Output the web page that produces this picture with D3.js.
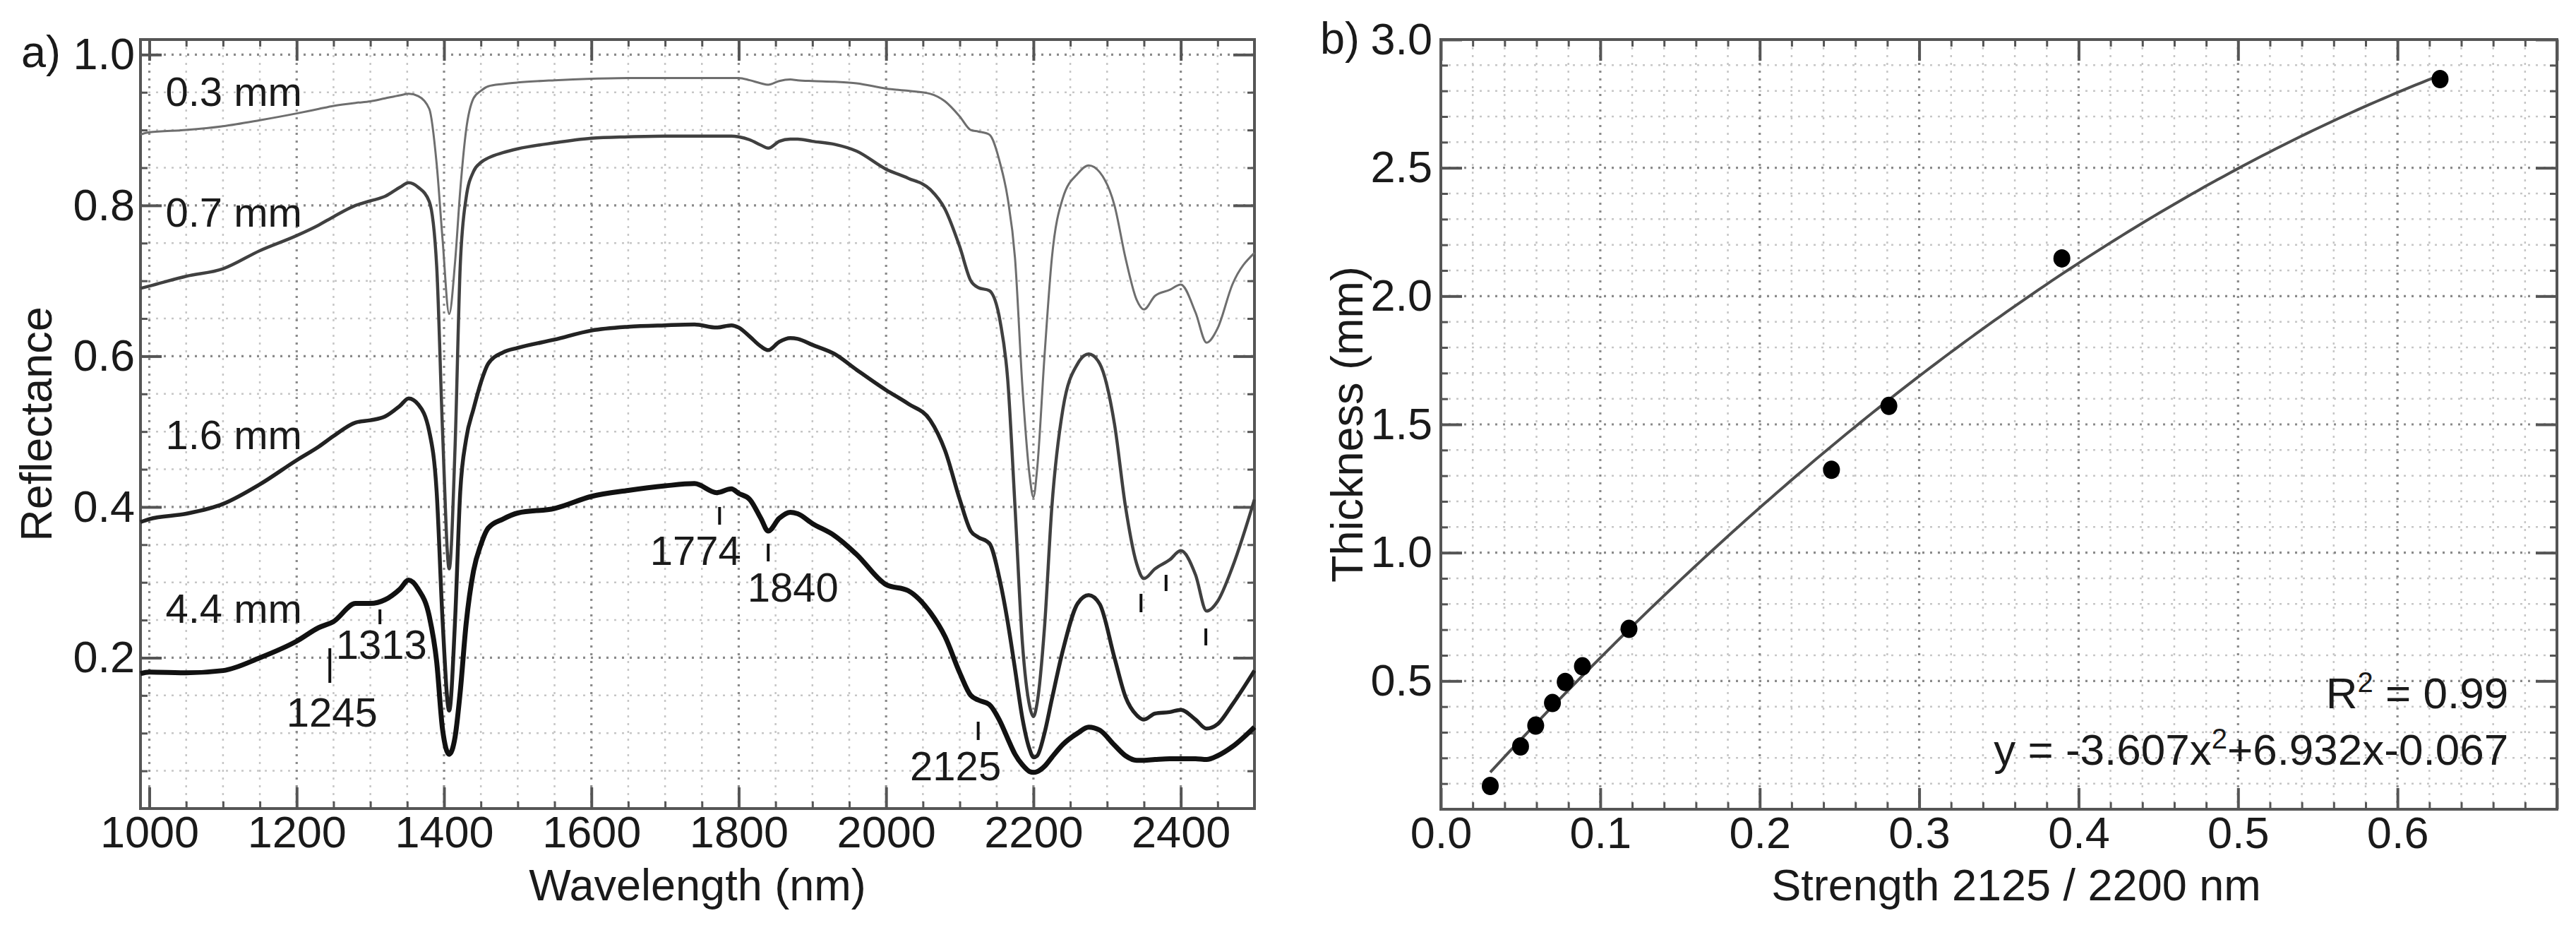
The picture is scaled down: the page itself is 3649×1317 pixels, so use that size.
<!DOCTYPE html>
<html>
<head>
<meta charset="utf-8">
<script src="https://cdn.jsdelivr.net/npm/d3@7"></script>
<style>
  body { margin: 0; background: #fff; }
  svg text { font-family: "Liberation Sans", Arial, Helvetica, sans-serif; fill: #1a1a1a; }
</style>
</head>
<body>
<svg id="fig" width="3649" height="1317"></svg>
<script>
// ---- panel a) reflectance spectra ----
const wavelength = [988, 1000, 1050, 1100, 1150, 1200, 1230, 1250, 1280, 1300, 1320, 1340, 1352, 1365,
  1380, 1390, 1398, 1407, 1415, 1422, 1430, 1440, 1450, 1460, 1480, 1500, 1550, 1600, 1650, 1700, 1740,
  1770, 1790, 1800, 1815, 1830, 1840, 1855, 1870, 1880, 1900, 1930, 1960, 2000, 2030, 2060, 2080, 2100,
  2115, 2125, 2140, 2155, 2165, 2175, 2185, 2195, 2200, 2205, 2215, 2225, 2240, 2260, 2275, 2290, 2310,
  2325, 2340, 2350, 2365, 2385, 2400, 2420, 2435, 2450, 2470, 2500];

const refl03 = [0.894, 0.897, 0.900, 0.905, 0.913, 0.922, 0.928, 0.932, 0.936, 0.938, 0.942, 0.946, 0.948, 0.945,
  0.928, 0.855, 0.755, 0.656, 0.725, 0.820, 0.900, 0.942, 0.952, 0.958, 0.961, 0.963, 0.966, 0.968, 0.969, 0.969, 0.969,
  0.969, 0.969, 0.969, 0.966, 0.962, 0.960, 0.965, 0.967, 0.966, 0.965, 0.964, 0.962, 0.955, 0.952, 0.948, 0.938, 0.918,
  0.900, 0.898, 0.894, 0.855, 0.810, 0.730, 0.560, 0.440, 0.413, 0.450, 0.600, 0.730, 0.810, 0.842, 0.853, 0.844, 0.800,
  0.730, 0.675, 0.662, 0.680, 0.688, 0.695, 0.658, 0.618, 0.637, 0.695, 0.737];

const refl07 = [0.690, 0.693, 0.706, 0.716, 0.740, 0.760, 0.774, 0.785, 0.800, 0.806, 0.812, 0.824, 0.830, 0.824,
  0.805, 0.720, 0.500, 0.318, 0.480, 0.720, 0.810, 0.845, 0.857, 0.863, 0.870, 0.875, 0.883, 0.889, 0.891, 0.892, 0.892,
  0.892, 0.892, 0.891, 0.887, 0.880, 0.876, 0.885, 0.888, 0.888, 0.885, 0.881, 0.872, 0.848, 0.836, 0.821, 0.795, 0.745,
  0.700, 0.691, 0.687, 0.645, 0.570, 0.400, 0.220, 0.135, 0.122, 0.140, 0.240, 0.400, 0.530, 0.590, 0.603, 0.590, 0.510,
  0.400, 0.325, 0.305, 0.318, 0.330, 0.342, 0.310, 0.262, 0.275, 0.320, 0.410];

const refl16 = [0.380, 0.384, 0.391, 0.404, 0.430, 0.462, 0.480, 0.494, 0.512, 0.515, 0.520, 0.534, 0.544, 0.536,
  0.500, 0.420, 0.250, 0.130, 0.250, 0.420, 0.490, 0.530, 0.565, 0.590, 0.605, 0.611, 0.622, 0.634, 0.639, 0.641, 0.642,
  0.638, 0.641, 0.638, 0.626, 0.613, 0.608, 0.619, 0.624, 0.623, 0.615, 0.603, 0.582, 0.555, 0.537, 0.515, 0.475, 0.410,
  0.368, 0.360, 0.352, 0.300, 0.248, 0.185, 0.120, 0.078, 0.068, 0.070, 0.100, 0.145, 0.210, 0.272, 0.283, 0.271, 0.200,
  0.148, 0.124, 0.118, 0.126, 0.128, 0.131, 0.118, 0.106, 0.112, 0.138, 0.183];

const refl44 = [0.179, 0.181, 0.180, 0.183, 0.200, 0.222, 0.240, 0.248, 0.272, 0.272, 0.277, 0.291, 0.303, 0.291,
  0.255, 0.195, 0.105, 0.072, 0.095, 0.155, 0.245, 0.315, 0.350, 0.372, 0.384, 0.392, 0.398, 0.414, 0.422, 0.428, 0.431,
  0.419, 0.424, 0.418, 0.410, 0.385, 0.368, 0.385, 0.393, 0.391, 0.378, 0.362, 0.337, 0.297, 0.289, 0.260, 0.228, 0.180,
  0.150, 0.144, 0.138, 0.115, 0.093, 0.072, 0.058, 0.049, 0.048, 0.049, 0.056, 0.068, 0.085, 0.100, 0.108, 0.104, 0.084,
  0.070, 0.064, 0.064, 0.065, 0.066, 0.066, 0.066, 0.065, 0.070, 0.082, 0.108];

const sampleNames = ['0.3 mm', '0.7 mm', '1.6 mm', '4.4 mm'];
const wlTicks = [1000, 1200, 1400, 1600, 1800, 2000, 2200, 2400];
const reflTicks = [0.2, 0.4, 0.6, 0.8, 1.0];

// absorption features marked under the curves
const featureWl = [1245, 1313, 1774, 1840, 2125, 2346, 2380, 2434];
const featureLabels = ['1245', '1313', '1774', '1840', '2125', '', '', ''];

// ---- panel b) band strength vs thickness ----
const strength  = [0.031, 0.050, 0.0595, 0.070, 0.078, 0.0888, 0.118, 0.245, 0.281, 0.3895, 0.6267];
const thickness = [0.091, 0.245, 0.326, 0.414, 0.496, 0.557, 0.703, 1.323, 1.572, 2.147, 2.846];
const fitCoef = [-3.607, 6.932, -0.067];   // y = a x^2 + b x + c
const strengthTicks = [0.0, 0.1, 0.2, 0.3, 0.4, 0.5, 0.6];
const thickTicks = [0.5, 1.0, 1.5, 2.0, 2.5, 3.0];

const svg = d3.select('#fig');
const TICK_FONT = 63;

// ---- scales ----
const A = {left: 199, right: 1777, top: 56, bottom: 1145};
const B = {left: 2041, right: 3622, top: 56, bottom: 1146};

const xA = d3.scaleLinear().domain([988, 2500]).range([A.left, A.right]);
const yA = d3.scaleLinear().domain([0, 1.02]).range([A.bottom, A.top]);
const xB = d3.scaleLinear().domain([0, 0.7]).range([B.left, B.right]);
const yB = d3.scaleLinear().domain([0, 3]).range([B.bottom, B.top]);

function notIn(vals, majors) {
  return vals.filter(v => !majors.some(m => Math.abs(m - v) < 1e-6));
}

// grid, ticks on four sides, frame
function drawFrame(P, x, y, o) {
  const g = svg.append('g');
  const xMinor = notIn(o.xMinor, o.xMajor), yMinor = notIn(o.yMinor, o.yMajor);

  // minor grid first (lighter), then major grid
  const gridSets = [
    {xs: xMinor, ys: yMinor, color: '#c6c6c6', w: 2.5},
    {xs: o.xMajor, ys: o.yMajor, color: '#8a8a8a', w: 3.2}
  ];
  gridSets.forEach(s => {
    g.selectAll(null).data(s.xs.filter(v => x(v) > P.left + 2 && x(v) < P.right - 2)).join('line')
      .attr('x1', d => x(d)).attr('x2', d => x(d))
      .attr('y1', P.top).attr('y2', P.bottom)
      .attr('stroke', s.color).attr('stroke-width', s.w).attr('stroke-dasharray', '3,8');
    g.selectAll(null).data(s.ys.filter(v => y(v) > P.top + 2 && y(v) < P.bottom - 2)).join('line')
      .attr('y1', d => y(d)).attr('y2', d => y(d))
      .attr('x1', P.left).attr('x2', P.right)
      .attr('stroke', s.color).attr('stroke-width', s.w).attr('stroke-dasharray', '3,8');
  });

  const styleAxis = (sel, w) => {
    sel.select('.domain').remove();
    sel.selectAll('line').attr('stroke', '#555').attr('stroke-width', w);
    sel.attr('font-size', TICK_FONT).attr('font-family', null);
    sel.selectAll('text').attr('fill', '#1a1a1a');
  };

  // minor ticks
  [[d3.axisBottom(x), 0, P.bottom, xMinor], [d3.axisTop(x), 0, P.top, xMinor],
   [d3.axisLeft(y), P.left, 0, yMinor], [d3.axisRight(y), P.right, 0, yMinor]].forEach(([ax, tx, ty, vals]) => {
    g.append('g').attr('transform', `translate(${tx},${ty})`)
      .call(ax.tickValues(vals).tickSize(-10).tickFormat(''))
      .call(s => styleAxis(s, 3));
  });

  // major ticks, labelled on bottom and left
  g.append('g').attr('transform', `translate(0,${P.bottom})`)
    .call(d3.axisBottom(x).tickValues(o.xMajor).tickSize(-30).tickPadding(10).tickFormat(o.xFmt))
    .call(s => styleAxis(s, 4));
  g.append('g').attr('transform', `translate(0,${P.top})`)
    .call(d3.axisTop(x).tickValues(o.xMajor).tickSize(-30).tickFormat(''))
    .call(s => styleAxis(s, 4));
  g.append('g').attr('transform', `translate(${P.left},0)`)
    .call(d3.axisLeft(y).tickValues(o.yMajor).tickSize(-30).tickPadding(o.yPad).tickFormat(o.yFmt))
    .call(s => styleAxis(s, 4));
  g.append('g').attr('transform', `translate(${P.right},0)`)
    .call(d3.axisRight(y).tickValues(o.yMajor).tickSize(-30).tickFormat(''))
    .call(s => styleAxis(s, 4));

  g.append('rect')
    .attr('x', P.left).attr('y', P.top)
    .attr('width', P.right - P.left).attr('height', P.bottom - P.top)
    .attr('fill', 'none').attr('stroke', '#555').attr('stroke-width', 4);
  return g;
}

// ================= panel a =================
drawFrame(A, xA, yA, {
  xMajor: wlTicks, xMinor: d3.range(1000, 2501, 50),
  yMajor: reflTicks, yMinor: d3.range(0.05, 1.01, 0.05),
  xFmt: d3.format('d'), yFmt: d3.format('.1f'), yPad: 8
});

const spectra = [refl03, refl07, refl16, refl44];
const lineStyle = [
  {color: '#6e6e6e', width: 3},
  {color: '#404040', width: 4.5},
  {color: '#222', width: 5.5},
  {color: '#111', width: 7}
];
const specLine = d3.line()
  .x(d => xA(d[0])).y(d => yA(d[1]))
  .curve(d3.curveMonotoneX);

const gA = svg.append('g');
spectra.forEach((vals, i) => {
  gA.append('path')
    .datum(wavelength.map((w, k) => [w, vals[k]]))
    .attr('d', specLine)
    .attr('fill', 'none')
    .attr('stroke', lineStyle[i].color)
    .attr('stroke-width', lineStyle[i].width)
    .attr('stroke-linejoin', 'round');
});

// sample labels
const nameBaselines = [0.932, 0.772, 0.477, 0.246];
gA.selectAll(null).data(sampleNames).join('text')
  .attr('x', xA(1022)).attr('y', (d, i) => yA(nameBaselines[i]))
  .attr('font-size', 58)
  .text(d => d);

// feature ticks and labels (tick top/bottom + label baseline in reflectance, label dx in px)
const featurePos = [
  {top: 0.2126, bot: 0.1667, lab: 0.1087, dx: 3},
  {top: 0.2641, bot: 0.2445, lab: 0.1986, dx: 2},
  {top: 0.4000, bot: 0.3765, lab: 0.3232, dx: -34},
  {top: 0.3513, bot: 0.3278, lab: 0.2744, dx: 35},
  {top: 0.1152, bot: 0.0909, lab: 0.0375, dx: -32},
  {top: 0.2848, bot: 0.2604},
  {top: 0.3100, bot: 0.2885},
  {top: 0.2389, bot: 0.2164}
];
featureWl.forEach((w, i) => {
  const p = featurePos[i];
  gA.append('line')
    .attr('x1', xA(w)).attr('x2', xA(w))
    .attr('y1', yA(p.top)).attr('y2', yA(p.bot))
    .attr('stroke', '#111').attr('stroke-width', 4);
  if (featureLabels[i]) {
    gA.append('text')
      .attr('x', xA(w) + p.dx).attr('y', yA(p.lab))
      .attr('text-anchor', 'middle').attr('font-size', 58)
      .text(featureLabels[i]);
  }
});

svg.append('text').attr('x', 30).attr('y', yA(1.0) + 18)
  .attr('font-size', TICK_FONT).text('a)');
svg.append('text')
  .attr('transform', `translate(73,${(A.top + A.bottom) / 2}) rotate(-90)`)
  .attr('text-anchor', 'middle').attr('font-size', 63)
  .text('Reflectance');
svg.append('text').attr('x', (A.left + A.right) / 2).attr('y', 1275)
  .attr('text-anchor', 'middle').attr('font-size', 63)
  .text('Wavelength (nm)');

// ================= panel b =================
drawFrame(B, xB, yB, {
  xMajor: strengthTicks.concat([0.7]), xMinor: d3.range(0.02, 0.7, 0.02),
  yMajor: thickTicks, yMinor: d3.range(0.1, 3.0, 0.1),
  xFmt: d => d > 0.65 ? '' : d3.format('.1f')(d), yFmt: d3.format('.1f'), yPad: 12
});

const gB = svg.append('g');
const fitX = d3.range(strength[0], strength[strength.length - 1] + 1e-9, 0.004);
fitX.push(strength[strength.length - 1]);
const fitLine = d3.line()
  .x(d => xB(d)).y(d => yB(fitCoef[0] * d * d + fitCoef[1] * d + fitCoef[2]));
gB.append('path')
  .datum(fitX)
  .attr('d', fitLine)
  .attr('fill', 'none').attr('stroke', '#4d4d4d').attr('stroke-width', 4);

gB.selectAll('ellipse').data(strength).join('ellipse')
  .attr('cx', d => xB(d)).attr('cy', (d, i) => yB(thickness[i]))
  .attr('rx', 12).attr('ry', 13).attr('fill', '#000');

const r2 = gB.append('text')
  .attr('x', xB(0.6695)).attr('y', yB(0.3936))
  .attr('text-anchor', 'end').attr('font-size', 62);
r2.append('tspan').text('R');
r2.append('tspan').attr('dy', -23).attr('font-size', 40).text('2');
r2.append('tspan').attr('dy', 23).text(' = 0.99');

const eq = gB.append('text')
  .attr('x', xB(0.6695)).attr('y', yB(0.1734))
  .attr('text-anchor', 'end').attr('font-size', 62);
eq.append('tspan').text('y = -3.607x');
eq.append('tspan').attr('dy', -23).attr('font-size', 40).text('2');
eq.append('tspan').attr('dy', 23).text('+6.932x-0.067');

svg.append('text').attr('x', 1870).attr('y', yB(3.0) + 20)
  .attr('font-size', TICK_FONT).text('b)');
svg.append('text')
  .attr('transform', `translate(1930,${(B.top + B.bottom) / 2}) rotate(-90)`)
  .attr('text-anchor', 'middle').attr('font-size', 63)
  .text('Thickness (mm)');
svg.append('text').attr('x', 2856).attr('y', 1275)
  .attr('text-anchor', 'middle').attr('font-size', 63)
  .text('Strength 2125 / 2200 nm');
</script>
</body>
</html>
